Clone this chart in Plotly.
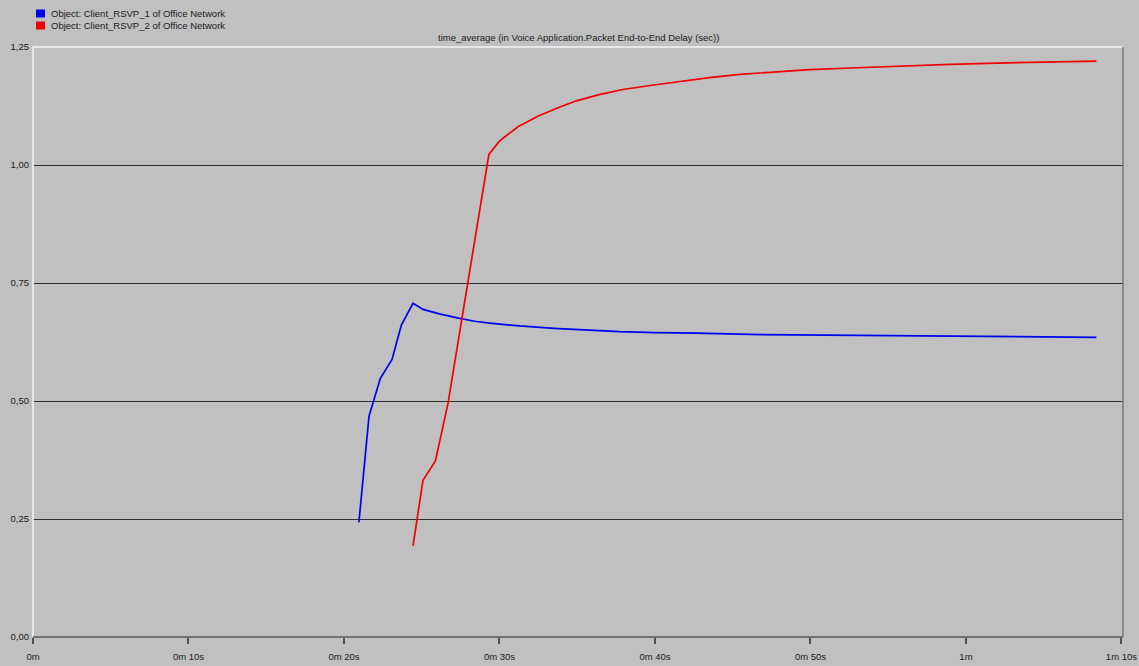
import plotly.graph_objects as go

# Time-averaged voice packet end-to-end delay (seconds) per client
client1_t = [20.96, 21.61, 22.34, 23.09, 23.69, 24.44, 25.08, 26.2, 27.44, 28.4, 29.37,
             31.30, 33.5, 35.6, 37.73, 40.0, 42.66, 46.09, 50.59, 56.57, 61.0, 65.58, 68.39]
client1_v = [0.243, 0.468, 0.548, 0.588, 0.661, 0.707, 0.694, 0.684, 0.675, 0.669, 0.665,
             0.659, 0.654, 0.650, 0.647, 0.645, 0.644, 0.641, 0.640, 0.638, 0.637, 0.6365, 0.635]

client2_t = [24.44, 25.08, 25.88, 26.69, 29.32, 30.01, 31.19, 32.5, 33.8, 34.95, 36.4,
             37.94, 39.8, 41.59, 43.5, 45.45, 47.7, 49.95, 53.0, 56.0, 59.0, 62.0, 65.0, 68.39]
client2_v = [0.193, 0.332, 0.373, 0.495, 1.0225, 1.051, 1.081, 1.104, 1.122, 1.136, 1.149,
             1.160, 1.169, 1.177, 1.185, 1.192, 1.197, 1.202, 1.206, 1.210, 1.213, 1.216, 1.218, 1.220]

series_names = ["Object: Client_RSVP_1 of Office Network",
                "Object: Client_RSVP_2 of Office Network"]
series_colors = ["#0000F0", "#F00000"]

x_tick_vals = [0, 10, 20, 30, 40, 50, 60, 70]
x_tick_text = ["0m", "0m 10s", "0m 20s", "0m 30s", "0m 40s", "0m 50s", "1m", "1m 10s"]
y_tick_vals = [0, 0.25, 0.5, 0.75, 1.0, 1.25]
y_tick_text = ["0,00", "0,25", "0,50", "0,75", "1,00", "1,25"]

chart_title = "time_average (in Voice Application.Packet End-to-End Delay (sec))"

BG = "#C0C0C0"
FONT = "Liberation Sans"
FS = 9.5

# plot area in pixels
L, R, T, B = 33, 1123, 47, 637
PW, PH = R - L, B - T

fig = go.Figure()
for t, v, name, color in [(client1_t, client1_v, series_names[0], series_colors[0]),
                          (client2_t, client2_v, series_names[1], series_colors[1])]:
    fig.add_trace(go.Scatter(x=t, y=v, mode="lines", name=name,
                             line=dict(color=color, width=1.7), showlegend=False))

# Legend drawn as small coloured squares with labels in the top-left corner
for i, (name, color) in enumerate(zip(series_names, series_colors)):
    yc = 13.5 + 12 * i
    fig.add_shape(type="rect", xref="paper", yref="paper",
                  x0=(36 - L) / PW, x1=(45 - L) / PW,
                  y0=1 + (T - (yc + 4)) / PH, y1=1 + (T - (yc - 4)) / PH,
                  fillcolor=color, line=dict(width=0))
    fig.add_annotation(xref="paper", yref="paper", x=(49 - L) / PW,
                       y=1 + (T - yc) / PH, text=name, showarrow=False,
                       xanchor="left", yanchor="middle",
                       font=dict(family=FONT, size=FS, color="#1a1a1a"))

# Chart title centred over the plot area
fig.add_annotation(xref="paper", yref="paper", x=0.5, y=1 + (T - 38) / PH,
                   text=chart_title, showarrow=False, xanchor="center", yanchor="middle",
                   font=dict(family=FONT, size=FS, color="#1a1a1a"))

# Inset frame: light top/left edges, darker right/bottom edges
fig.add_shape(type="line", xref="paper", yref="paper", x0=0, x1=1, y0=1, y1=1,
              line=dict(color="#F4F4F4", width=1.5), layer="above")
fig.add_shape(type="line", xref="paper", yref="paper", x0=0, x1=0, y0=0, y1=1,
              line=dict(color="#F4F4F4", width=1.5), layer="above")
fig.add_shape(type="line", xref="paper", yref="paper", x0=1, x1=1, y0=0, y1=1,
              line=dict(color="#7A7A7A", width=1.5), layer="above")
fig.add_shape(type="line", xref="paper", yref="paper", x0=0, x1=1, y0=0, y1=0,
              line=dict(color="#5A5A5A", width=1.5), layer="above")

fig.update_layout(
    width=1139, height=666,
    margin=dict(l=L, r=1139 - R, t=T, b=666 - B),
    paper_bgcolor=BG, plot_bgcolor=BG,
    font=dict(family=FONT, size=FS, color="#1a1a1a"),
    xaxis=dict(range=[0, 70.1], tickvals=x_tick_vals, ticktext=x_tick_text,
               showgrid=False, zeroline=False, showline=False, automargin=False,
               ticks="outside", ticklen=6, tickwidth=1.5, tickcolor="#505050",
               ticklabelstandoff=5,
               tickfont=dict(family=FONT, size=FS, color="#1a1a1a")),
    yaxis=dict(range=[0, 1.25], tickvals=y_tick_vals, ticktext=y_tick_text,
               showgrid=True, gridcolor="#303030", gridwidth=1,
               zeroline=False, showline=False, ticks="", automargin=False,
               ticklabelstandoff=3,
               tickfont=dict(family=FONT, size=FS, color="#1a1a1a")),
)

fig.write_html("out.html")
